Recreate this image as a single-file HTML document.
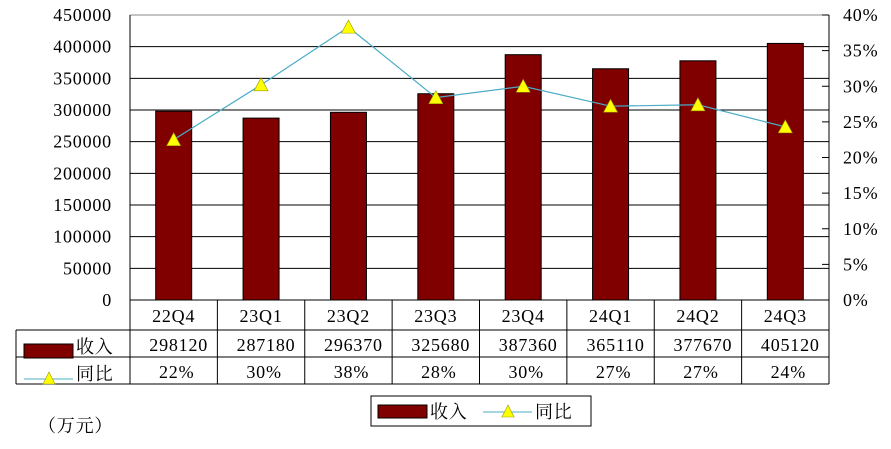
<!DOCTYPE html>
<html><head><meta charset="utf-8"><style>
body{margin:0;background:#fff;}
svg text{font-family:"Liberation Serif","Noto Serif CJK SC",serif;fill:#000;letter-spacing:0.8px;}
</style></head><body>
<svg id="c" width="891" height="444" xmlns="http://www.w3.org/2000/svg"></svg>
<script>
const categories=["22Q4","23Q1","23Q2","23Q3","23Q4","24Q1","24Q2","24Q3"];
const revenue=[298120,287180,296370,325680,387360,365110,377670,405120];
const yoy=[22.5,30.2,38.3,28.4,30.0,27.2,27.4,24.3];
const yoyLabels=["22%","30%","38%","28%","30%","27%","27%","24%"];
const leftTicks=[0,50000,100000,150000,200000,250000,300000,350000,400000,450000];
const rightTicks=[0,5,10,15,20,25,30,35,40];
const svg=document.getElementById('c');
const NS="http://www.w3.org/2000/svg";
const L=130,R=829,T=15,B=300;
const cw=(R-L)/categories.length;
const y=v=>B-(v/450000)*(B-T);
const y2=v=>B-(v/40)*(B-T);
const xc=i=>L+cw*(i+0.5);
const FS=18;
function mk(tag,attrs,txt){const e=document.createElementNS(NS,tag);for(const k in attrs)e.setAttribute(k,attrs[k]);if(txt!=null)e.textContent=txt;svg.appendChild(e);return e;}
leftTicks.forEach(t=>{
 const g=mk('line',{x1:L,x2:R,y1:y(t),y2:y(t),stroke:t===450000?'#888':'#000','stroke-width':1});
 
 
 const tx=mk('text',{x:112,y:y(t)+6,'text-anchor':'end','font-size':FS},String(t));
 
 
});
let a=mk('line',{x1:L,x2:L,y1:T,y2:B,stroke:'#000'});

a=mk('line',{x1:R,x2:R,y1:T,y2:B,stroke:'#000'});

rightTicks.forEach(t=>{
 const l=mk('line',{x1:R-7,x2:R,y1:y2(t),y2:y2(t),stroke:'#000'});
 
 
 const tx=mk('text',{x:843,y:y2(t)+6,'font-size':FS},t+'%');
 
 
});
revenue.forEach((v,i)=>{
 const b=mk('rect',{x:xc(i)-18,y:y(v),width:36,height:B-y(v),fill:'#800000',stroke:'#000','stroke-width':1});
 
 
});
const pts=yoy.map((v,i)=>xc(i)+','+y2(v)).join(' ');
const pl=mk('polyline',{points:pts,fill:'none',stroke:'#4bacc6','stroke-width':1.2});


yoy.forEach((v,i)=>{
 const X=xc(i),Y=y2(v);
 const m=mk('polygon',{points:`${X},${Y-7} ${X-7},${Y+6} ${X+7},${Y+6}`,fill:'#ffff00',stroke:'#999900','stroke-width':0.6});
 
 
});
const TL=16,r1=330,r2=357,r3=384;
[[L,B,L,r3],[TL,r1,TL,r3],[TL,r1,R,r1],[TL,r2,R,r2],[TL,r3,R,r3],[R,B,R,r3]].forEach(s=>{
 const l=mk('line',{x1:s[0],y1:s[1],x2:s[2],y2:s[3],stroke:'#000'});
 
 
});
categories.forEach((c,i)=>{
 if(i>0){const l=mk('line',{x1:L+cw*i,x2:L+cw*i,y1:B,y2:r3,stroke:'#000'});
 
 }
 let t=mk('text',{x:xc(i),y:322,'text-anchor':'middle','font-size':FS},c);
 
 
 t=mk('text',{x:xc(i)+5,y:351,'text-anchor':'middle','font-size':FS},String(revenue[i]));
 
 
 t=mk('text',{x:xc(i)+3,y:378,'text-anchor':'middle','font-size':FS},yoyLabels[i]);
 
 
});
let k=mk('rect',{x:24,y:344,width:49,height:14,fill:'#800000',stroke:'#000'});

k=mk('text',{x:76,y:353,'font-size':FS},'收入');

k=mk('line',{x1:24,x2:73,y1:379,y2:379,stroke:'#4bacc6'});

k=mk('polygon',{points:'49,372 43,384 55,384',fill:'#ffff00',stroke:'#999900','stroke-width':0.6});

k=mk('text',{x:76,y:380,'font-size':FS},'同比');

k=mk('rect',{x:371,y:396,width:220,height:30,fill:'#fff',stroke:'#000'});

k=mk('rect',{x:378,y:405,width:49,height:13,fill:'#800000',stroke:'#000'});

k=mk('text',{x:430,y:418,'font-size':FS},'收入');

k=mk('line',{x1:483,x2:532,y1:412,y2:412,stroke:'#4bacc6'});

k=mk('polygon',{points:'508,405 502,417 514,417',fill:'#ffff00',stroke:'#999900','stroke-width':0.6});

k=mk('text',{x:535,y:418,'font-size':FS},'同比');

k=mk('text',{x:38,y:432,'font-size':FS},'（万元）');

</script>
</body></html>
